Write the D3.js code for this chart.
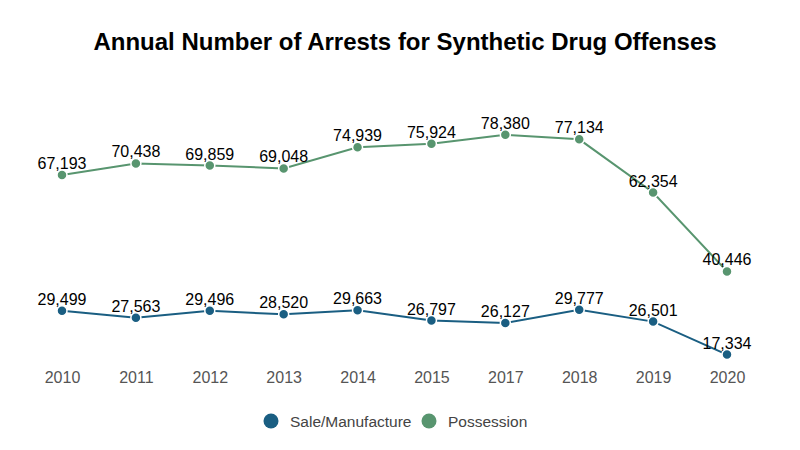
<!DOCTYPE html>
<html>
<head>
<meta charset="utf-8">
<script src="https://cdn.jsdelivr.net/npm/d3@7"></script>
<style>
  body { margin: 0; background: #fff; }
  svg { font-family: "Liberation Sans", Arial, sans-serif; }
</style>
</head>
<body>
<svg id="chart" width="800" height="450"></svg>
<script>
// data
var years = ["2010", "2011", "2012", "2013", "2014", "2015", "2017", "2018", "2019", "2020"];
var saleManufacture = [29499, 27563, 29496, 28520, 29663, 26797, 26127, 29777, 26501, 17334];
var possession = [67193, 70438, 69859, 69048, 74939, 75924, 78380, 77134, 62354, 40446];
var seriesNames = ["Sale/Manufacture", "Possession"];
var colors = ["#1a5e82", "#58956f"];

var svg = d3.select("#chart");

var x = d3.scalePoint()
    .domain(years)
    .range([62, 727]);

var y = d3.scaleLinear()
    .domain([0, 90000])
    .range([417, 93]);

// title
svg.append("text")
    .attr("x", 405)
    .attr("y", 50)
    .attr("text-anchor", "middle")
    .attr("font-size", 24)
    .attr("font-weight", "bold")
    .attr("fill", "#000")
    .text("Annual Number of Arrests for Synthetic Drug Offenses");

// x axis labels only, no line/ticks
var xAxis = d3.axisBottom(x).tickSize(0).tickPadding(0);
var gx = svg.append("g")
    .attr("transform", "translate(0,372)")
    .call(xAxis);
gx.select(".domain").remove();
gx.selectAll("text")
    .attr("font-size", 16)
    .attr("fill", "#555")
    .attr("font-family", "Liberation Sans, Arial, sans-serif");

var allSeries = [saleManufacture, possession];

var line = d3.line()
    .x(function(d, i) { return x(years[i]); })
    .y(function(d) { return y(d); });

allSeries.forEach(function(values, s) {
    var g = svg.append("g");

    g.append("path")
        .datum(values)
        .attr("d", line)
        .attr("fill", "none")
        .attr("stroke", colors[s])
        .attr("stroke-width", 2);

    g.selectAll("circle")
        .data(values)
        .enter().append("circle")
        .attr("cx", function(d, i) { return x(years[i]); })
        .attr("cy", function(d) { return y(d); })
        .attr("r", 5)
        .attr("fill", colors[s])
        .attr("stroke", "#fff")
        .attr("stroke-width", 1.5);

    g.selectAll("text")
        .data(values)
        .enter().append("text")
        .attr("x", function(d, i) { return x(years[i]); })
        .attr("y", function(d) { return y(d) - 6; })
        .attr("text-anchor", "middle")
        .attr("font-size", 16)
        .attr("fill", "#000")
        .text(function(d) { return d3.format(",")(d); });
});

// legend
var legendX = [271, 429];
var legend = svg.append("g")
    .selectAll("g")
    .data(seriesNames)
    .enter().append("g")
    .attr("transform", function(d, i) { return "translate(" + legendX[i] + ",421)"; });

legend.append("circle")
    .attr("r", 7.5)
    .attr("fill", function(d, i) { return colors[i]; });

legend.append("text")
    .attr("x", 19)
    .attr("y", 5.5)
    .attr("font-size", 15.5)
    .attr("fill", "#444")
    .text(function(d) { return d; });
</script>
</body>
</html>
